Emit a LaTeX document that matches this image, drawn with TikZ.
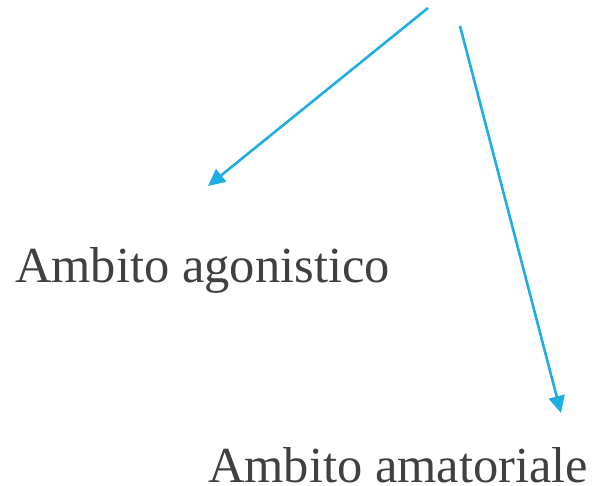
\documentclass[tikz,border=0pt]{standalone}
\usepackage{fontspec}
\setmainfont{Liberation Serif}
\usetikzlibrary{arrows.meta}
\definecolor{arrowblue}{HTML}{1EAEE4}
\definecolor{textgray}{HTML}{404040}
\begin{document}
\begin{tikzpicture}[x=1pt,y=-1pt,
  conn/.style={draw=arrowblue,line width=2.6pt,-{Triangle[length=17pt,width=16pt]}},
  label/.style={inner sep=0pt,anchor=base west,text=textgray,font=\fontsize{50.5}{58}\selectfont}]
\useasboundingbox (0,0) rectangle (592,486);
\coordinate (s1) at (428,8);
\coordinate (t1) at (208,186);
\coordinate (s2) at (460,26);
\coordinate (t2) at (561,413);
\node[label] (ago) at (15,283) {Ambito agonistico};
\node[label] (ama) at (208,482) {Ambito amatoriale};
\draw[conn] (s1) -- (t1);
\draw[conn] (s2) -- (t2);
\end{tikzpicture}
\end{document}
